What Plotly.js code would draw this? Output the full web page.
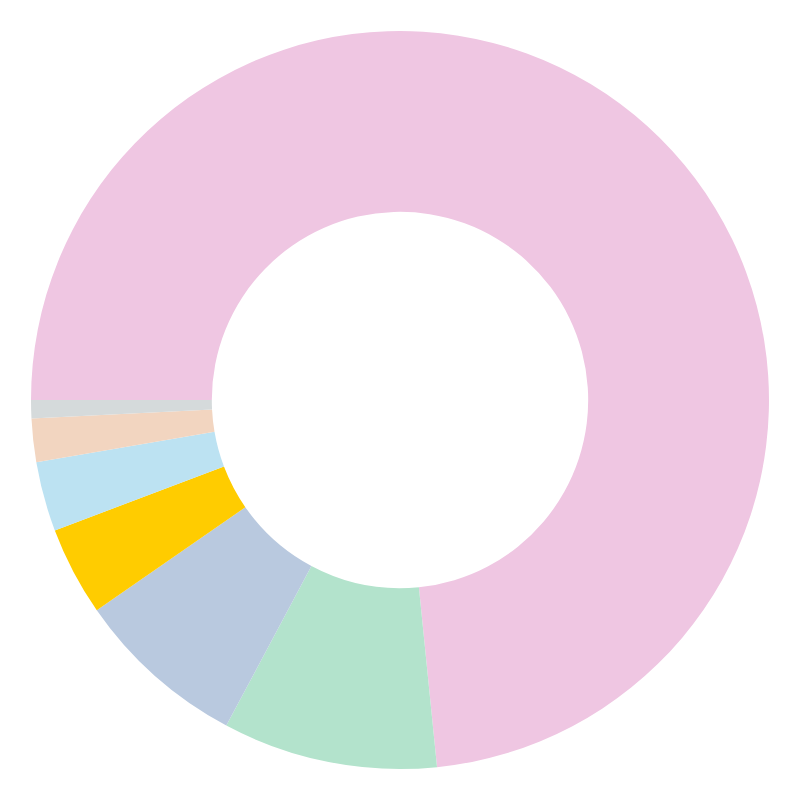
<!DOCTYPE html>
<html>
<head>
<meta charset="utf-8">
<script src="https://cdn.plot.ly/plotly-3.0.1.min.js"></script>
<style>
  html, body { margin: 0; padding: 0; background: #fff; }
  #myChart { width: 800px; height: 800px; }
</style>
</head>
<body>
<div id="myChart"></div>
<script>
// Slice values (share of the ring, in %)
const labels = ['A', 'B', 'C', 'D', 'E', 'F', 'G'];
const values = [73.4, 9.4, 7.55, 3.9, 3.05, 1.9, 0.8];
const colors = ['#EFC6E2', '#B3E3CC', '#B9C9DF', '#FFCC00', '#BCE2F2', '#F2D5C0', '#D5DADB'];

const traces = [{
    type: 'pie',
    labels: labels,
    values: values,
    hole: 0.51,
    sort: false,
    direction: 'clockwise',
    rotation: -90,
    textinfo: 'none',
    hoverinfo: 'label+percent',
    marker: { colors: colors, line: { width: 0 } }
}];

const layout = {
    width: 800, height: 800,
    margin: { l: 31, r: 31, t: 31, b: 31 },
    showlegend: false,
    paper_bgcolor: '#fff'
};

Plotly.newPlot('myChart', traces, layout, { displayModeBar: false });
</script>
</body>
</html>
